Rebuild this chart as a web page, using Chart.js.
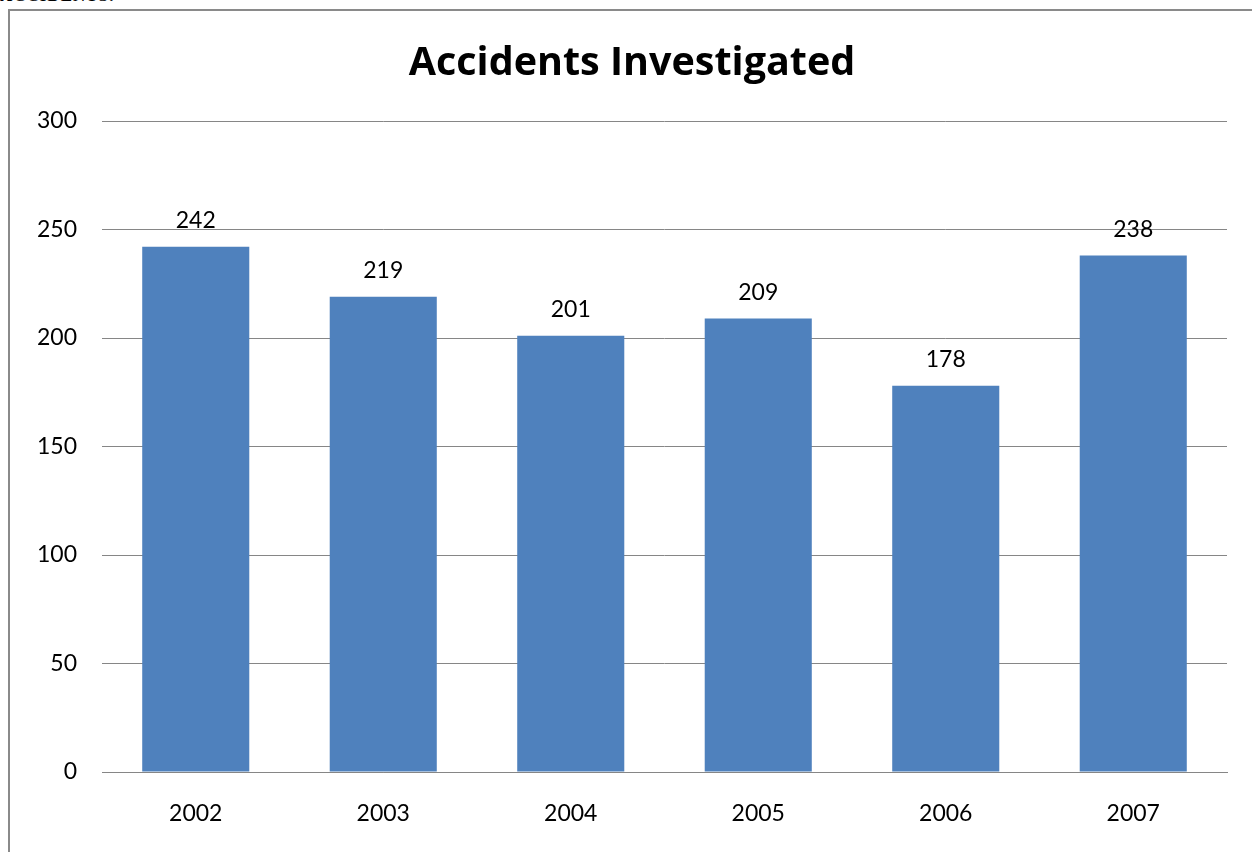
<!DOCTYPE html>
<html>
<head>
<meta charset="utf-8">
<script src="https://cdn.jsdelivr.net/npm/chart.js@4.4.0/dist/chart.umd.min.js"></script>
<style>
  html, body { margin: 0; padding: 0; background: #fff; overflow: hidden; }
  body { width: 1252px; height: 852px; position: relative; }
  #frame { position: absolute; left: 8px; top: 9px; width: 1400px; height: 1000px;
           border-left: 2px solid #8a8a8a; border-top: 2px solid #8a8a8a; }
  #doctext { position: absolute; left: 0px; top: -14px; font: bold 17px "Liberation Serif", serif; color: #000; letter-spacing: 1px; }
  #wrap { position: absolute; left: 0; top: 0; width: 1252px; height: 852px; }
</style>
</head>
<body>
<div id="doctext">ACCIDENTS.</div>
<div id="frame"></div>
<div id="wrap"><canvas id="c" width="1252" height="852"></canvas></div>
<script>
const categories = ["2002", "2003", "2004", "2005", "2006", "2007"];
const accidents = [242, 219, 201, 209, 178, 238];
const yTicks = [0, 50, 100, 150, 200, 250, 300];
const chartTitle = "Accidents Investigated";

const FONT = "Lato, 'Open Sans', sans-serif";

const valueLabels = {
  id: 'valueLabels',
  afterLayout(chart) {
    // centre the title over the whole canvas, as in the original
    const tb = chart.titleBlock;
    if (tb) {
      const shift = chart.width / 2 - (tb.left + tb.right) / 2 + 6;
      tb.left += shift;
      tb.right += shift;
    }
  },
  afterDatasetsDraw(chart) {
    const ctx = chart.ctx;
    ctx.save();
    ctx.font = "23px " + FONT;
    ctx.fillStyle = "#000";
    ctx.textAlign = "center";
    ctx.textBaseline = "middle";
    chart.getDatasetMeta(0).data.forEach((el, i) => {
      ctx.fillText(String(chart.data.datasets[0].data[i]), el.x, el.y - 26);
    });
    ctx.restore();
  }
};

new Chart(document.getElementById('c'), {
  type: 'bar',
  data: {
    labels: categories,
    datasets: [{
      data: accidents,
      backgroundColor: '#4F81BD',
      borderWidth: 0,
      barPercentage: 0.571,
      categoryPercentage: 1.0
    }]
  },
  options: {
    responsive: false,
    animation: false,
    devicePixelRatio: 1,
    layout: { padding: { left: 0, right: 25, top: 0, bottom: 0 } },
    plugins: {
      legend: { display: false },
      tooltip: { enabled: false },
      title: {
        display: true,
        text: chartTitle,
        color: '#000',
        font: { family: "'Open Sans', Lato, sans-serif", size: 39.5, weight: 'bold', lineHeight: 1.2 },
        padding: { top: 40, bottom: 33.6 }
      }
    },
    scales: {
      x: {
        grid: { display: false, drawTicks: false },
        border: { display: true, color: '#868686', width: 1 },
        ticks: { color: '#000', font: { family: FONT, size: 23 }, padding: 28 },
        afterFit(scale) { scale.height = 80; }
      },
      y: {
        min: 0, max: 300,
        afterBuildTicks(scale) { scale.ticks = yTicks.map(v => ({ value: v })); },
        grid: { color: '#868686', lineWidth: 1, drawTicks: false },
        border: { display: false },
        ticks: { color: '#000', font: { family: FONT, size: 23 }, padding: 25 },
        afterFit(scale) { scale.width = 102; }
      }
    }
  },
  plugins: [valueLabels]
});
</script>
</body>
</html>
